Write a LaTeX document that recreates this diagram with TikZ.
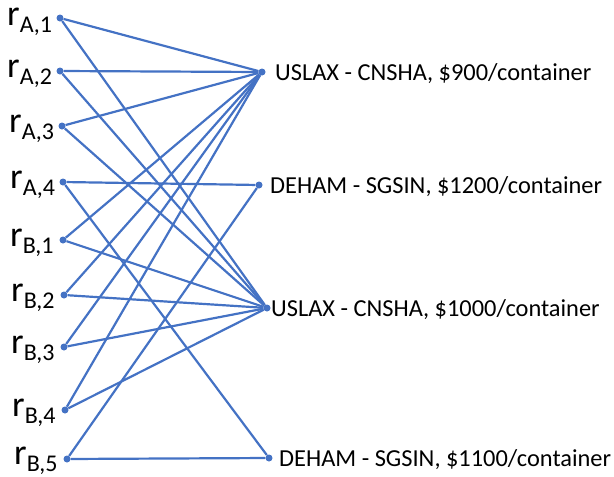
\documentclass[tikz,border=0pt]{standalone}
\usepackage{fontspec}
\setmainfont{Carlito}
\definecolor{lineblue}{HTML}{4472C4}
\newcommand\rlab[2]{{\fontsize{36}{40}\selectfont r}\raisebox{-7pt}{\fontsize{24}{28}\selectfont #1,#2}}
\begin{document}
\begin{tikzpicture}[x=1pt,y=-1pt,
  dot/.style={circle,fill=lineblue,inner sep=0pt,minimum size=7pt},
  link/.style={lineblue,line width=2.2pt},
  rlabel/.style={anchor=base west,inner sep=0pt},
  tlabel/.style={anchor=base west,inner sep=0pt,font=\fontsize{24.4}{28}\selectfont}]
\useasboundingbox (0,0) rectangle (614,477);
% left dots
\node[dot] (a1) at (60,18) {};
\node[dot] (a2) at (60,71) {};
\node[dot] (a3) at (62,126) {};
\node[dot] (a4) at (63,182) {};
\node[dot] (b1) at (63,240) {};
\node[dot] (b2) at (64,295) {};
\node[dot] (b3) at (64,347) {};
\node[dot] (b4) at (65,410) {};
\node[dot] (b5) at (67,459) {};
% right dots
\node[dot] (u9) at (262,72) {};
\node[dot] (d12) at (259,185) {};
\node[dot] (u10) at (267,308) {};
\node[dot] (d11) at (269,458) {};
% left labels
\node[rlabel] (la1) at (7,25) {\rlab{A}{1}};
\node[rlabel] (la2) at (7,77) {\rlab{A}{2}};
\node[rlabel] (la3) at (9,132) {\rlab{A}{3}};
\node[rlabel] (la4) at (10,188) {\rlab{A}{4}};
\node[rlabel] (lb1) at (10,246) {\rlab{B}{1}};
\node[rlabel] (lb2) at (11,301) {\rlab{B}{2}};
\node[rlabel] (lb3) at (11,353) {\rlab{B}{3}};
\node[rlabel] (lb4) at (12,416) {\rlab{B}{4}};
\node[rlabel] (lb5) at (14,464) {\rlab{B}{5}};
% right labels
\node[tlabel] (t9) at (275,80) {USLAX - CNSHA, \$900/container};
\node[tlabel] (t12) at (270,193) {DEHAM - SGSIN, \$1200/container};
\node[tlabel] (t10) at (271,316.5) {USLAX - CNSHA, \$1000/container};
\node[tlabel] (t11) at (279,466.5) {DEHAM - SGSIN, \$1100/container};
% links
\foreach \s in {a1,a2,a3,b1,b2,b3,b4}{
  \draw[link] (\s) -- (u9);
  \draw[link] (\s) -- (u10);
}
\draw[link] (a4) -- (d12);
\draw[link] (a4) -- (d11);
\draw[link] (b5) -- (d12);
\draw[link] (b5) -- (d11);
\end{tikzpicture}
\end{document}
